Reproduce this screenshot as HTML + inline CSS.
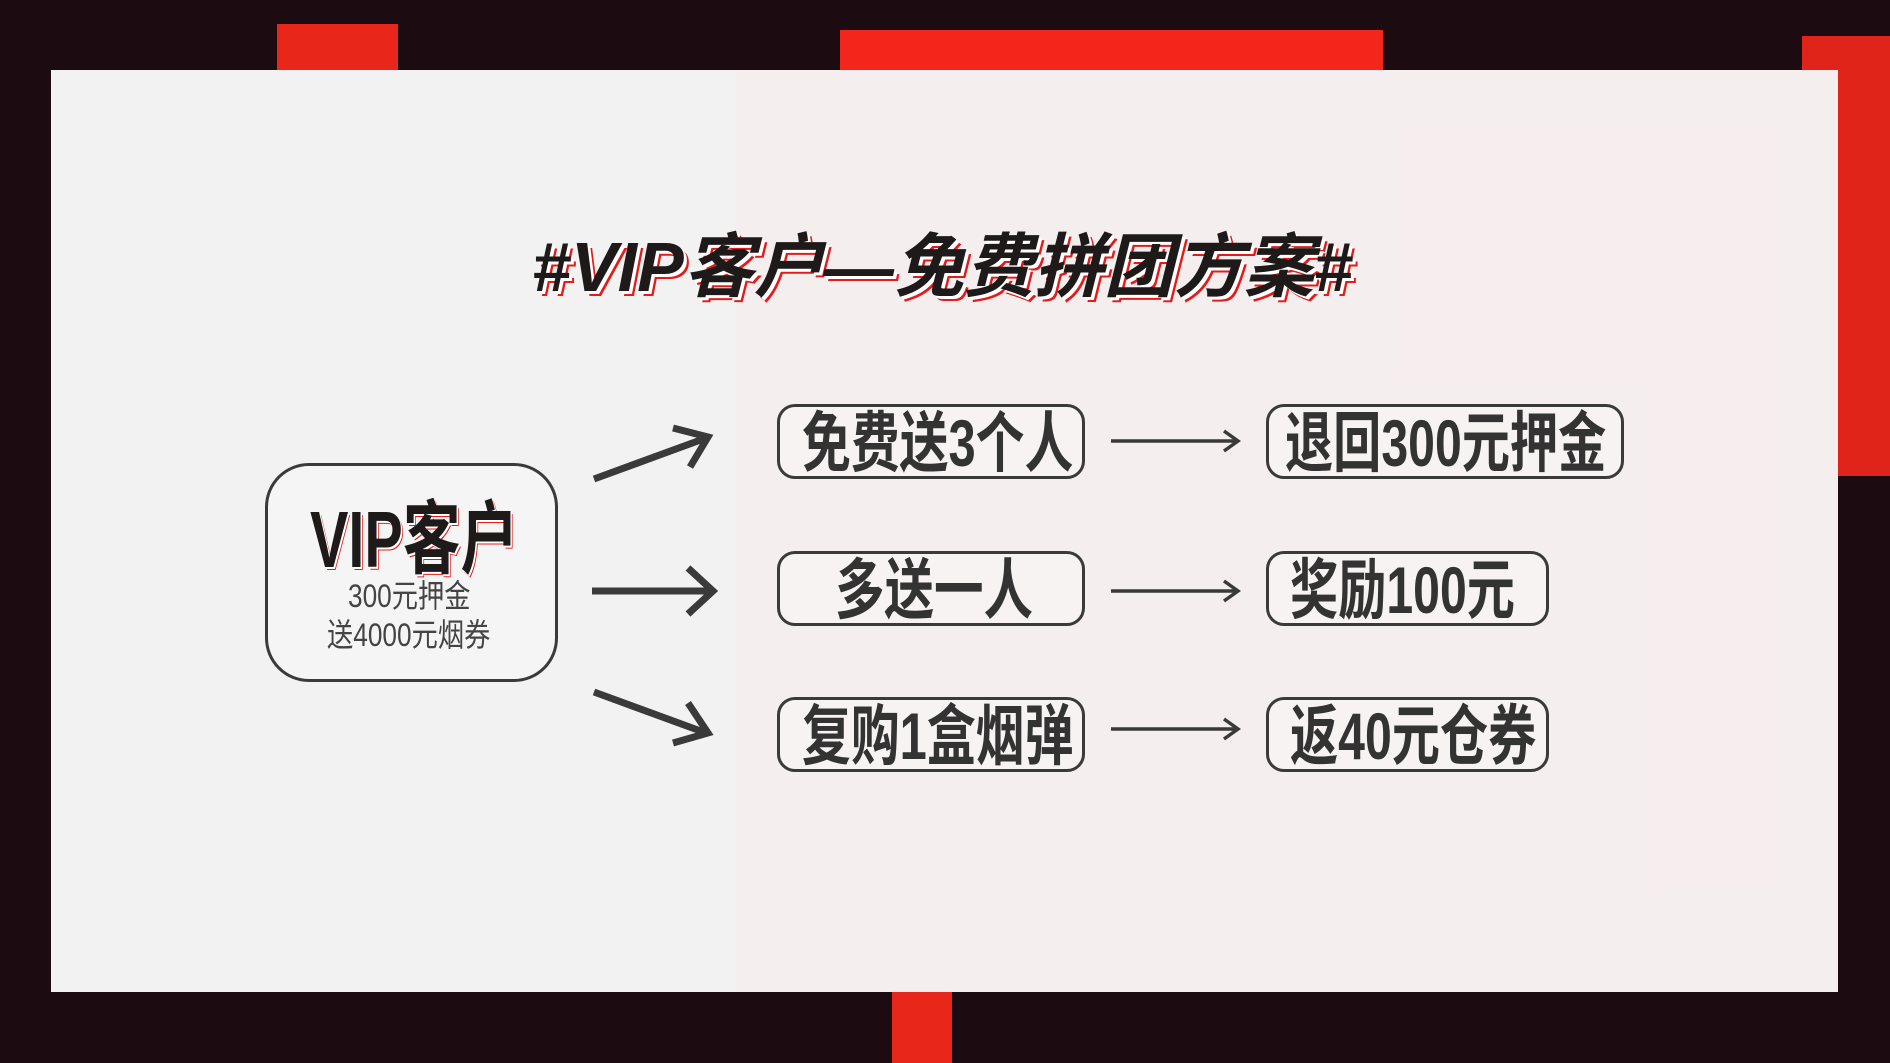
<!DOCTYPE html>
<html><head><meta charset="utf-8"><style>
html,body{margin:0;padding:0}
body{width:1890px;height:1063px;position:relative;overflow:hidden;background:#1c0b10;font-family:"Liberation Sans","Noto Sans CJK SC",sans-serif}
.abs{position:absolute}
.panel{left:51px;top:70px;width:1787px;height:922px;background:#f3f2f2}
.pink{left:735px;top:70px;width:1103px;height:922px;background:rgba(255,225,225,0.22)}
.box{border:3px solid #3a3a3a;box-sizing:border-box;background:rgba(250,248,248,0.5)}
.t{position:absolute;white-space:nowrap;font-weight:bold;color:#333;font-size:66px;line-height:1;transform-origin:0 50%}
</style></head><body>
<div class="abs" style="left:277px;top:24px;width:121px;height:60px;background:#e8271a"></div>
<div class="abs" style="left:840px;top:30px;width:543px;height:60px;background:#f2261a"></div>
<div class="abs" style="left:1802px;top:36px;width:88px;height:440px;background:#e0241a"></div>
<div class="abs" style="left:892px;top:980px;width:60px;height:83px;background:#e8271a"></div>
<div class="abs panel"></div>
<div class="abs pink"></div>

<div class="t" style="left:532px;top:232px;font-size:70px;font-style:italic;color:#1e1a1a;text-shadow:3px 3px 0 #fff,5px 5px 0 #e21b1b">#VIP客户—免费拼团方案#</div>

<div class="abs box" style="left:265px;top:463px;width:293px;height:219px;border-radius:44px"></div>
<div class="t" style="left:310px;top:500px;font-size:80px;color:#1e1a1a;transform:scaleX(0.72);text-shadow:2px 2px 0 #fff,3px 3px 0 #e21b1b">VIP客户</div>
<div class="t" style="left:348px;top:580px;font-size:32px;font-weight:normal;color:#444;transform:scaleX(0.82)">300元押金</div>
<div class="t" style="left:327px;top:619px;font-size:32px;font-weight:normal;color:#444;transform:scaleX(0.82)">送4000元烟券</div>

<svg class="abs" style="left:0;top:0" width="1890" height="1063">
<g stroke="#3a3a3a" stroke-width="7" fill="none">
<line x1="594" y1="479" x2="706" y2="438"/><polyline points="673,428 708,437 690,467"/>
<line x1="592" y1="591" x2="712" y2="591"/><polyline points="688,568 713,591 688,614"/>
<line x1="594" y1="692" x2="706" y2="733"/><polyline points="688,703 708,733 673,743"/>
</g>
<g stroke="#3a3a3a" stroke-width="3.5" fill="none">
<line x1="1111" y1="441" x2="1237" y2="441"/><polyline points="1224,431 1238,441 1224,451"/>
<line x1="1111" y1="591" x2="1237" y2="591"/><polyline points="1224,581 1238,591 1224,601"/>
<line x1="1111" y1="729" x2="1237" y2="729"/><polyline points="1224,719 1238,729 1224,739"/>
</g>
</svg>

<div class="abs box" style="left:777px;top:404px;width:308px;height:75px;border-radius:18px"></div>
<div class="abs box" style="left:777px;top:551px;width:308px;height:75px;border-radius:18px"></div>
<div class="abs box" style="left:777px;top:697px;width:308px;height:75px;border-radius:18px"></div>
<div class="abs box" style="left:1266px;top:404px;width:358px;height:75px;border-radius:18px"></div>
<div class="abs box" style="left:1266px;top:551px;width:283px;height:75px;border-radius:18px"></div>
<div class="abs box" style="left:1266px;top:697px;width:283px;height:75px;border-radius:18px"></div>

<div class="t" style="left:802px;top:410px;transform:scaleX(0.74)">免费送3个人</div>
<div class="t" style="left:835px;top:557px;transform:scaleX(0.75)">多送一人</div>
<div class="t" style="left:802px;top:703px;transform:scaleX(0.74)">复购1盒烟弹</div>
<div class="t" style="left:1285px;top:410px;transform:scaleX(0.73)">退回300元押金</div>
<div class="t" style="left:1290px;top:557px;transform:scaleX(0.73)">奖励100元</div>
<div class="t" style="left:1290px;top:703px;transform:scaleX(0.73)">返40元仓券</div>
</body></html>
